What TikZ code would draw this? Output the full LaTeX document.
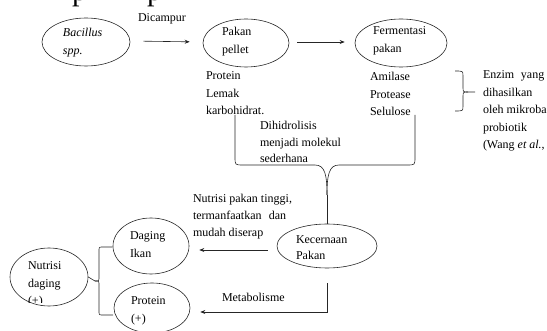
\documentclass[tikz,border=0pt]{standalone}
\usepackage{fontspec}
\setmainfont{Liberation Serif}
\usetikzlibrary{shapes.geometric,arrows.meta}
\tikzset{
  ell/.style={draw=black!85,line width=0.6pt,ellipse,inner sep=0pt},
  txt/.style={anchor=base west,inner sep=0pt,outer sep=0pt,font=\fontsize{12}{17.5}\selectfont},
  arr/.style={draw=black!85,line width=0.6pt,-{Stealth[length=5pt,width=4pt]}},
  ln/.style={draw=black!85,line width=0.6pt},
  headp/.style={anchor=base west,inner sep=0pt,font=\fontsize{30}{30}\selectfont},
}
\newcommand{\lines}[1]{\begin{tabular}[t]{@{}l@{}}#1\end{tabular}}
\begin{document}
\begin{tikzpicture}[x=1pt,y=-1pt]
\useasboundingbox (0,0) rectangle (547,331);
% cut-off heading glyphs
\node[headp] (hp1) at (72,0.5) {p};
\node[headp] (hp2) at (147,0.5) {p};
% ellipses
\node[ell,minimum width=88pt,minimum height=48pt] (bac) at (86,42) {};
\node[ell,minimum width=86pt,minimum height=48pt] (pel) at (246,43) {};
\node[ell,minimum width=92pt,minimum height=48pt] (fer) at (401,43) {};
\node[ell,minimum width=100pt,minimum height=44pt] (kec) at (327,246) {};
\node[ell,minimum width=76pt,minimum height=56pt] (dag) at (151,246) {};
\node[ell,minimum width=76pt,minimum height=50pt] (pro) at (152,308) {};
\node[ell,minimum width=78pt,minimum height=58pt] (nut) at (49,277) {};
% texts in ellipses
\node[txt] (tbac) at (63,37) {\lines{\itshape Bacillus\\\itshape spp.}};
\node[txt] (tpel) at (222,36) {\lines{Pakan\\pellet}};
\node[txt] (tfer) at (373,35) {\lines{Fermentasi\\pakan}};
\node[txt] (tkec) at (296,243.5) {\begin{tabular}[t]{@{}l@{}}Kecernaan\\[-1pt]Pakan\end{tabular}};
\node[txt] (tdag) at (130,240) {\lines{Daging\\Ikan}};
\node[txt] (tpro) at (131,305) {\lines{Protein\\(+)}};
\begin{scope}
\clip (0,240) rectangle (100,302.5);
\node[txt] (tnut) at (28,270) {\lines{Nutrisi\\daging\\(+)}};
\end{scope}
% other texts
\node[txt] (tdic) at (138,22) {Dicampur};
\begin{scope}
\clip (150,60) rectangle (450,115.5);
\node[txt] (tprot) at (206,80) {\lines{Protein\\Lemak\\karbohidrat.}};
\node[txt] (tami) at (370,81) {\lines{Amilase\\Protease\\Selulose}};
\end{scope}
\node[txt] (tenz) at (483,79) {\lines{Enzim\hspace{0.55em}yang\\dihasilkan\\oleh mikroba\\probiotik\\(Wang \textit{et al.},}};
\node[txt] (tdih) at (260,130) {\begin{tabular}[t]{@{}l@{}}Dihidrolisis\\[-1pt]menjadi molekul\\[-1pt]sederhana\end{tabular}};
\node[txt] (tnpt) at (193,203) {\begin{tabular}[t]{@{}l@{}}Nutrisi pakan tinggi,\\[-0.5pt]termanfaatkan\hspace{0.6em}dan\\[-0.5pt]mudah diserap\end{tabular}};
\node[txt] (tmet) at (222,302) {Metabolisme};
% arrows
\draw[arr,shorten <=13pt,shorten >=13pt] ([yshift=1pt]bac.east) -- ([yshift=1pt]pel.west);
\draw[arr,shorten <=8pt,shorten >=10pt] ([yshift=1pt]pel.east) -- ([yshift=1pt]fer.west);
\draw[arr,shorten <=9pt,shorten >=10pt] ([yshift=-4pt]kec.west) -- ([yshift=-4pt]dag.east);
\coordinate (mc) at (327,312);
\draw[arr,shorten >=10pt] ([yshift=-15pt]kec.south) -- (mc) -- (pro.east |- mc);
% big brace
\coordinate (bl) at (235,115);
\coordinate (br) at (415,115);
\coordinate (bt) at (327,195);
\draw[ln] (bl) -- (235,157) .. controls (235,165) .. (243,165) -- (315,165)
  .. controls (325,165) and (327,175) .. (bt);
\draw[ln] (br) -- (415,157) .. controls (415,165) .. (407,165) -- (339,165)
  .. controls (329,165) and (327,175) .. (bt);
\draw[ln] (bt) -- (kec.north);
% enzim brace
\coordinate (et) at (455,71);
\coordinate (eb) at (455,111);
\draw[ln] (et) .. controls (463,71) .. (463,76) -- (463,87) .. controls (463,92) .. (468,92) -- (475,92);
\draw[ln] (468,92) .. controls (463,92) .. (463,97) -- (463,106) .. controls (463,111) .. (eb);
% left brace
\coordinate (lt) at (dag.west |- 0,247);
\coordinate (lb) at (113,315);
\draw[ln] (lt) -- (103,247) .. controls (99,247) .. (99,251) -- (99,277) .. controls (99,281) .. (95,281) -- (nut.east);
\draw[ln] (95,281) .. controls (99,281) .. (99,285) -- (99,311) .. controls (99,315) .. (103,315) -- (lb);
\end{tikzpicture}
\end{document}
